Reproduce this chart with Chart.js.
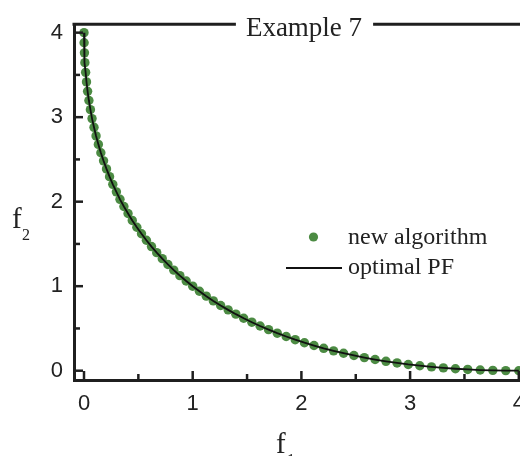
<!DOCTYPE html>
<html>
<head>
<meta charset="utf-8">
<script src="https://cdn.jsdelivr.net/npm/chart.js@4"></script>
<style>
html, body { margin: 0; padding: 0; background: #fff; overflow: hidden; }
#wrap { width: 540px; height: 456px; }
</style>
</head>
<body>
<div id="wrap"><canvas id="myChart" width="540" height="456"></canvas></div>
<script>
// values
const f1 = [0, 0.001, 0.004, 0.008, 0.015, 0.023, 0.033, 0.045, 0.059, 0.074, 0.092, 0.111, 0.132, 0.155,
    0.180, 0.207, 0.235, 0.265, 0.298, 0.331, 0.367, 0.405, 0.444, 0.486, 0.529, 0.574, 0.621, 0.669,
    0.720, 0.772, 0.826, 0.882, 0.940, 1.000, 1.062, 1.125, 1.190, 1.257, 1.326, 1.397, 1.469, 1.544,
    1.620, 1.698, 1.778, 1.860, 1.943, 2.028, 2.116, 2.205, 2.296, 2.388, 2.483, 2.579, 2.678, 2.778,
    2.880, 2.983, 3.089, 3.197, 3.306, 3.417, 3.530, 3.645, 3.761, 3.880, 4.000];
const f2 = [4.000, 3.880, 3.761, 3.645, 3.530, 3.417, 3.306, 3.197, 3.089, 2.983, 2.880, 2.778, 2.678, 2.579,
    2.483, 2.388, 2.296, 2.205, 2.116, 2.028, 1.943, 1.860, 1.778, 1.698, 1.620, 1.544, 1.469, 1.397,
    1.326, 1.257, 1.190, 1.125, 1.062, 1.000, 0.940, 0.882, 0.826, 0.772, 0.720, 0.669, 0.621, 0.574,
    0.529, 0.486, 0.444, 0.405, 0.367, 0.331, 0.298, 0.265, 0.235, 0.207, 0.180, 0.155, 0.132, 0.111,
    0.092, 0.074, 0.059, 0.045, 0.033, 0.023, 0.015, 0.008, 0.004, 0.001, 0];
const seriesNames = ['new algorithm', 'optimal PF'];
const chartTitle = 'Example 7';
const xTitle = ['f', '1'];
const yTitle = ['f', '2'];

const points = f1.map((v, i) => ({x: v, y: f2[i]}));

const green = '#4c8b43';
const ink = '#1f1f1f';
const serif = '"Liberation Serif", "Times New Roman", serif';
const sans = '"Liberation Sans", Arial, sans-serif';

// ticks inside the frame, top line with title, axis titles and legend
const framePlugin = {
    id: 'frame',
    afterDraw(chart) {
        const ctx = chart.ctx;
        const a = chart.chartArea;
        const xs = chart.scales.x, ys = chart.scales.y;
        ctx.save();
        ctx.strokeStyle = ink;
        ctx.lineWidth = 2.5;
        xs.ticks.forEach(t => {
            const px = xs.getPixelForValue(t.value);
            const len = Number.isInteger(t.value) ? 9 : 6;
            ctx.beginPath();
            ctx.moveTo(px, a.bottom);
            ctx.lineTo(px, a.bottom - len);
            ctx.stroke();
        });
        ys.ticks.forEach(t => {
            const py = ys.getPixelForValue(t.value);
            const len = Number.isInteger(t.value) ? 9 : 6;
            ctx.beginPath();
            ctx.moveTo(a.left, py);
            ctx.lineTo(a.left + len, py);
            ctx.stroke();
        });

        // top line with the title sitting in it
        ctx.font = '27px ' + serif;
        ctx.fillStyle = '#222';
        const tw = ctx.measureText(chartTitle).width;
        const tx = 304;
        ctx.lineWidth = 3;
        ctx.beginPath();
        ctx.moveTo(a.left - 1.5, a.top);
        ctx.lineTo(tx - tw / 2 - 10, a.top);
        ctx.moveTo(tx + tw / 2 + 11, a.top);
        ctx.lineTo(chart.width, a.top);
        ctx.stroke();
        ctx.textAlign = 'center';
        ctx.textBaseline = 'alphabetic';
        ctx.fillText(chartTitle, tx, a.top + 12);

        // axis titles
        ctx.textAlign = 'left';
        ctx.font = '29px ' + serif;
        ctx.fillText(xTitle[0], 276, 453);
        ctx.fillText(yTitle[0], 12, 228);
        ctx.font = '16px ' + serif;
        ctx.fillText(xTitle[1], 287, 465);
        ctx.fillText(yTitle[1], 22, 240);

        // legend
        ctx.fillStyle = green;
        ctx.beginPath();
        ctx.arc(313.5, 237, 4.6, 0, Math.PI * 2);
        ctx.fill();
        ctx.strokeStyle = '#111';
        ctx.lineWidth = 2;
        ctx.beginPath();
        ctx.moveTo(286, 268);
        ctx.lineTo(342, 268);
        ctx.stroke();
        ctx.fillStyle = '#222';
        ctx.font = '24px ' + serif;
        ctx.textBaseline = 'middle';
        ctx.fillText(seriesNames[0], 348, 238);
        ctx.fillText(seriesNames[1], 348, 268);
        ctx.restore();
    }
};

const tickFont = {family: sans, size: 22};

const config = {
    type: 'scatter',
    data: {
        datasets: [
            {
                label: seriesNames[1],
                data: points,
                showLine: true,
                borderColor: '#111',
                borderWidth: 1.8,
                pointRadius: 0,
                tension: 0,
                order: 0
            },
            {
                label: seriesNames[0],
                data: points,
                backgroundColor: green,
                borderWidth: 0,
                pointRadius: 4.7,
                order: 1
            }
        ]
    },
    options: {
        responsive: false,
        animation: false,
        layout: {padding: {top: 20, right: 10, left: 0, bottom: 0}},
        plugins: {
            legend: {display: false},
            tooltip: {enabled: false}
        },
        scales: {
            x: {
                type: 'linear',
                min: -0.092,
                max: 4.103,
                afterFit: s => { s.height = 76; },
                grid: {display: false, drawTicks: false},
                border: {display: true, color: ink, width: 3},
                ticks: {
                    stepSize: 0.5,
                    includeBounds: false,
                    autoSkip: false,
                    maxRotation: 0,
                    padding: 11,
                    color: '#222',
                    font: tickFont,
                    callback: v => Number.isInteger(v) ? v : ''
                }
            },
            y: {
                type: 'linear',
                min: -0.11,
                max: 4.1,
                afterFit: s => { s.width = 74; },
                grid: {display: false, drawTicks: false},
                border: {display: true, color: ink, width: 3},
                ticks: {
                    stepSize: 0.5,
                    includeBounds: false,
                    autoSkip: false,
                    padding: 11,
                    color: '#222',
                    font: tickFont,
                    callback: v => Number.isInteger(v) ? v : ''
                }
            }
        }
    },
    plugins: [framePlugin]
};

const myChart = new Chart(document.getElementById('myChart'), config);
</script>
</body>
</html>
